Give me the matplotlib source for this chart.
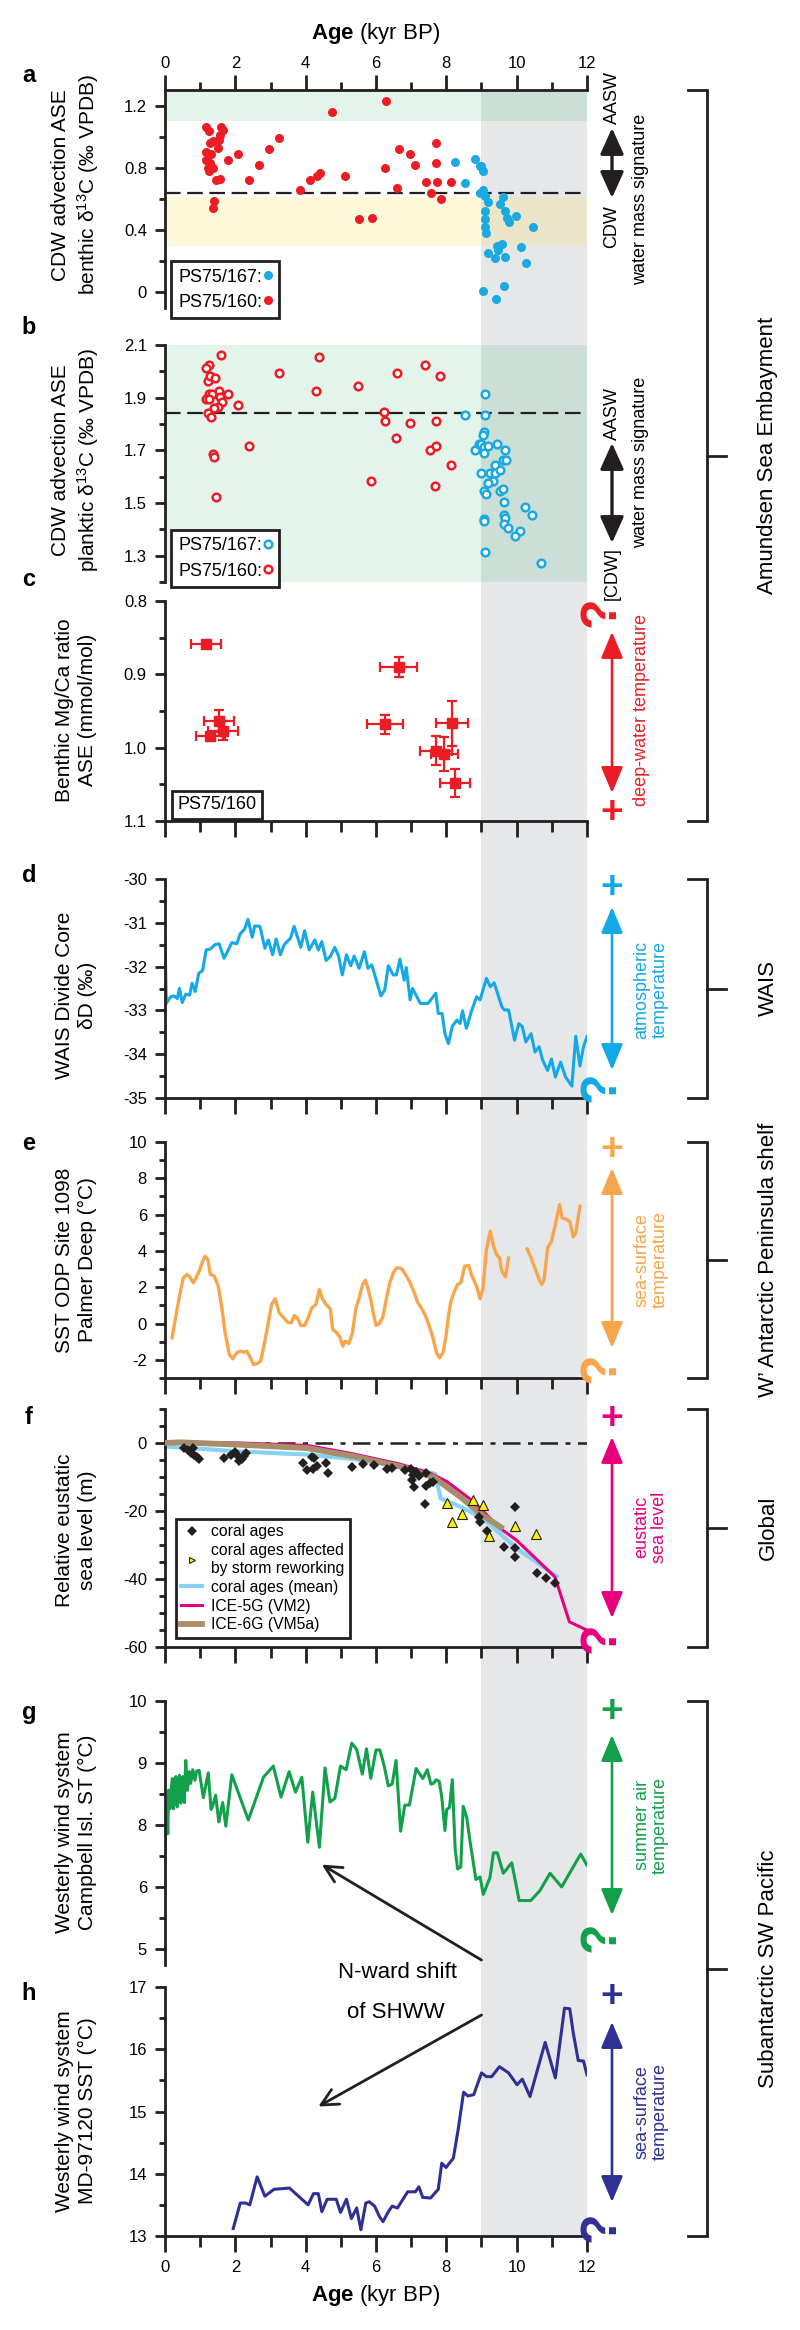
import numpy as np
import matplotlib
matplotlib.use('Agg')
import matplotlib.pyplot as plt
from matplotlib.ticker import MultipleLocator, FixedLocator, FixedFormatter
from matplotlib.lines import Line2D
from matplotlib.patches import Rectangle
from matplotlib.transforms import blended_transform_factory

plt.rcParams['font.family'] = ['Liberation Sans', 'DejaVu Sans']
plt.rcParams['mathtext.fontset'] = 'custom'
plt.rcParams['mathtext.rm'] = 'Liberation Sans'
plt.rcParams['mathtext.bf'] = 'Liberation Sans:bold'
plt.rcParams['mathtext.it'] = 'Liberation Sans:italic'
plt.rcParams['axes.unicode_minus'] = False

# ---- a: benthic d13C ----
ben_age_160 = [1.17, 1.25, 1.58, 1.65, 1.29, 1.36, 1.57, 1.54, 1.17, 1.32, 1.51, 1.17, 1.29, 1.22, 1.36, 1.25,
               1.46, 1.57, 1.80, 2.09, 2.67, 2.38, 2.96, 3.25, 3.83, 4.12, 4.32, 4.41, 4.75, 5.13, 5.51, 5.88,
               6.25, 6.29, 6.64, 6.61, 6.97, 7.12, 7.41, 7.55, 7.74, 7.70, 7.71, 7.84, 8.13, 1.39, 1.36]
ben_d13c_160 = [1.06, 1.035, 1.06, 1.04, 0.96, 0.97, 1.01, 0.98, 0.90, 0.89, 0.93, 0.85, 0.83, 0.80, 0.80, 0.78,
                0.725, 0.73, 0.85, 0.89, 0.82, 0.72, 0.92, 0.99, 0.66, 0.72, 0.75, 0.77, 1.16, 0.75, 0.47, 0.48,
                0.80, 1.23, 0.92, 0.67, 0.89, 0.82, 0.71, 0.64, 0.71, 0.83, 0.96, 0.60, 0.71, 0.59, 0.54]
ben_age_167 = [8.25, 8.54, 8.81, 8.96, 9.04, 9.00, 8.96, 9.04, 9.10, 9.19, 9.62, 9.54, 9.68, 9.72, 9.77, 9.97,
               9.10, 9.10, 9.10, 9.12, 10.46, 9.43, 9.57, 9.48, 9.19, 9.39, 9.68, 10.12, 10.26, 9.03, 9.65, 9.41]
ben_d13c_167 = [0.84, 0.70, 0.86, 0.81, 0.78, 0.81, 0.64, 0.66, 0.62, 0.58, 0.61, 0.57, 0.52, 0.48, 0.45, 0.49,
                0.52, 0.47, 0.42, 0.38, 0.42, 0.30, 0.31, 0.27, 0.25, 0.22, 0.23, 0.29, 0.19, 0.01, 0.04, -0.04]
ben_threshold = 0.64

# ---- b: planktic d13C ----
pla_age_160 = [1.58, 1.25, 1.17, 1.22, 1.29, 1.42, 1.54, 1.25, 1.33, 1.17, 1.26, 1.57, 1.61, 1.80, 1.51, 1.39,
               1.22, 1.32, 2.09, 1.36, 1.39, 2.38, 1.45, 3.25, 4.29, 4.38, 5.49, 5.86, 6.22, 6.25, 6.61, 6.58,
               6.97, 7.39, 7.54, 7.70, 7.70, 7.83, 7.68, 8.12]
pla_d13c_160 = [2.063, 2.025, 2.012, 1.965, 1.983, 1.974, 1.927, 1.914, 1.913, 1.895, 1.895, 1.904, 1.883, 1.914,
                1.866, 1.859, 1.843, 1.825, 1.872, 1.685, 1.675, 1.715, 1.522, 1.993, 1.927, 2.054, 1.945, 1.583,
                1.844, 1.812, 1.993, 1.745, 1.802, 2.024, 1.703, 1.715, 1.812, 1.983, 1.564, 1.644]
pla_age_167 = [9.10, 8.54, 9.10, 9.07, 9.04, 8.81, 8.93, 9.00, 9.07, 9.19, 9.07, 9.43, 9.68, 9.39, 9.62, 9.70,
               9.00, 9.25, 9.39, 9.54, 9.33, 9.19, 9.07, 9.14, 9.54, 9.62, 9.65, 10.23, 10.45, 9.07, 9.07, 9.65,
               9.68, 9.65, 9.74, 10.09, 9.94, 9.10, 10.70]
pla_d13c_167 = [1.914, 1.834, 1.834, 1.770, 1.757, 1.703, 1.723, 1.725, 1.713, 1.715, 1.691, 1.723, 1.703, 1.645,
                1.662, 1.662, 1.613, 1.613, 1.613, 1.624, 1.585, 1.575, 1.545, 1.534, 1.545, 1.553, 1.503, 1.483,
                1.454, 1.441, 1.432, 1.454, 1.443, 1.422, 1.404, 1.394, 1.375, 1.315, 1.273]
pla_threshold = 1.843

# ---- c: benthic Mg/Ca ----
mgca_age = [1.17, 6.64, 1.54, 1.65, 1.29, 6.26, 8.16, 7.71, 7.94, 8.25]
mgca = [0.858, 0.890, 0.963, 0.977, 0.984, 0.968, 0.967, 1.004, 1.009, 1.048]
mgca_age_err = [0.43, 0.53, 0.42, 0.43, 0.41, 0.52, 0.46, 0.45, 0.38, 0.43]
mgca_err = [0.0, 0.013, 0.015, 0.013, 0.0, 0.013, 0.031, 0.020, 0.023, 0.019]

# ---- d: WAIS Divide dD ----
wais_age = [0.0, 0.04, 0.16, 0.26, 0.35, 0.41, 0.49, 0.59, 0.70, 0.77, 0.86, 0.96, 1.07, 1.17, 1.29, 1.42,
            1.54, 1.68, 1.80, 1.90, 2.04, 2.14, 2.26, 2.36, 2.48, 2.55, 2.70, 2.84, 2.94, 3.06, 3.16, 3.28,
            3.39, 3.57, 3.67, 3.86, 3.97, 4.10, 4.26, 4.36, 4.46, 4.58, 4.70, 4.83, 4.94, 5.04, 5.16, 5.28,
            5.38, 5.52, 5.67, 5.77, 5.88, 6.14, 6.25, 6.35, 6.49, 6.58, 6.68, 6.80, 6.86, 6.97, 7.04, 7.26,
            7.48, 7.70, 7.77, 7.88, 7.96, 8.06, 8.17, 8.30, 8.39, 8.46, 8.57, 8.71, 8.86, 8.96, 9.14, 9.25,
            9.36, 9.58, 9.65, 9.77, 9.94, 10.06, 10.16, 10.26, 10.41, 10.52, 10.64, 10.74, 10.88, 10.99,
            11.10, 11.25, 11.39, 11.57, 11.68, 11.80, 11.90, 12.0]
wais_dD = [-31.43, -32.84, -32.69, -32.67, -32.73, -32.50, -32.82, -32.63, -32.65, -32.38, -32.57, -32.15,
           -32.09, -31.62, -31.60, -31.50, -31.48, -31.81, -31.62, -31.45, -31.48, -31.25, -31.15, -30.92,
           -31.33, -31.07, -31.08, -31.58, -31.39, -31.73, -31.37, -31.73, -31.50, -31.35, -31.08, -31.56,
           -31.18, -31.62, -31.39, -31.62, -31.43, -31.86, -31.77, -31.56, -31.77, -32.19, -31.73, -31.98,
           -31.76, -32.04, -31.66, -32.04, -31.96, -32.67, -32.53, -31.98, -32.19, -32.19, -31.83, -32.31,
           -32.02, -32.76, -32.50, -32.84, -32.84, -32.61, -33.07, -33.07, -33.53, -33.76, -33.36, -33.22,
           -33.30, -33.01, -33.41, -33.03, -32.69, -32.76, -32.27, -32.46, -32.37, -32.92, -32.99, -32.99,
           -33.68, -33.30, -33.37, -33.72, -33.53, -33.95, -33.83, -34.14, -34.37, -34.11, -34.52, -34.18,
           -34.52, -34.73, -33.59, -34.27, -33.83, -33.60]

# ---- e: SST ODP Site 1098 (two segments) ----
sst_age_1 = [0.20, 0.30, 0.41, 0.52, 0.62, 0.70, 0.81, 0.88, 0.99, 1.07, 1.14, 1.22, 1.29, 1.39, 1.51, 1.61,
             1.71, 1.83, 1.93, 2.04, 2.14, 2.23, 2.33, 2.43, 2.52, 2.62, 2.72, 2.81, 2.91, 3.03, 3.13, 3.25,
             3.35, 3.49, 3.59, 3.68, 3.78, 3.86, 3.97, 4.07, 4.17, 4.29, 4.39, 4.48, 4.58, 4.70, 4.77, 4.87,
             4.97, 5.06, 5.13, 5.23, 5.33, 5.42, 5.52, 5.62, 5.70, 5.77, 5.86, 5.93, 6.00, 6.10, 6.20, 6.29,
             6.39, 6.49, 6.58, 6.68, 6.75, 6.87, 6.97, 7.09, 7.19, 7.29, 7.41, 7.51, 7.62, 7.72, 7.81, 7.91,
             7.99, 8.06, 8.13, 8.23, 8.32, 8.42, 8.52, 8.64, 8.71, 8.86, 8.96, 9.04, 9.14, 9.25, 9.33, 9.43,
             9.51, 9.58, 9.68, 9.77]
sst_1 = [-0.79, 0.31, 1.50, 2.51, 2.70, 2.57, 2.24, 2.51, 2.97, 3.43, 3.71, 3.52, 2.70, 2.64, 2.09, 0.95,
         -0.51, -1.71, -1.94, -1.61, -1.52, -1.58, -1.52, -1.89, -2.26, -2.20, -2.07, -1.25, -0.24, 1.05,
         1.36, 0.59, 0.37, 0.07, 0.04, 0.44, 0.26, -0.11, -0.11, 0.31, 0.86, 1.05, 1.87, 1.36, 1.05, 0.81,
         -0.33, -0.48, -0.73, -1.25, -0.97, -1.10, -0.51, 0.77, 1.41, 2.15, 2.39, 1.96, 1.23, 0.50, -0.11,
         0.0, 0.40, 1.32, 2.24, 2.79, 3.06, 3.06, 2.97, 2.61, 2.24, 1.69, 1.14, 0.86, 0.40, -0.11, -0.79,
         -1.61, -1.89, -1.58, -0.70, 0.40, 1.23, 1.78, 2.15, 2.28, 3.16, 3.19, 2.70, 2.06, 1.36, 1.91, 4.07,
         5.08, 4.35, 3.80, 3.61, 2.88, 2.57, 3.61]
sst_age_2 = [10.30, 10.41, 10.52, 10.64, 10.71, 10.78, 10.88, 10.99, 11.10, 11.22, 11.29, 11.39, 11.51, 11.61,
             11.68, 11.80]
sst_2 = [4.11, 3.61, 3.06, 2.42, 2.15, 2.42, 4.17, 4.53, 5.45, 6.55, 5.82, 5.76, 5.63, 4.77, 4.99, 6.46]

# ---- f: relative eustatic sea level ----
coral_age = [0.55, 0.66, 0.73, 0.81, 0.82, 0.90, 0.98, 1.68, 1.87, 1.99, 2.06, 2.11, 2.18, 2.25, 2.30, 3.93,
             4.03, 4.17, 4.24, 4.20, 4.33, 4.58, 4.64, 5.31, 5.64, 5.95, 6.30, 6.46, 6.82, 6.99, 7.04, 7.01,
             7.08, 7.13, 7.23, 7.41, 7.42, 7.54, 7.61, 7.39, 8.94, 8.96, 9.17, 9.64, 9.95, 9.95, 9.95, 10.57,
             10.82, 11.09]
coral_sl = [-1.5, -2.0, -3.0, -1.5, -3.4, -4.1, -4.7, -4.4, -3.4, -2.5, -3.4, -5.4, -4.6, -3.7, -3.0, -5.9,
            -7.9, -4.1, -4.4, -7.6, -6.9, -5.9, -8.9, -7.2, -6.2, -6.6, -7.7, -7.4, -7.9, -7.7, -9.4, -10.8,
            -13.0, -8.4, -9.7, -8.9, -12.6, -11.8, -11.6, -17.9, -21.9, -23.2, -25.8, -30.5, -18.9, -30.8,
            -33.5, -38.2, -39.6, -41.2]
storm_age = [8.03, 8.17, 8.44, 8.77, 9.05, 9.22, 9.95, 10.55]
storm_sl = [-17.7, -23.3, -20.9, -16.7, -18.3, -27.4, -24.4, -26.8]
mean_age = [0.0, 2.13, 4.03, 5.36, 6.68, 7.44, 7.68, 7.84, 8.39, 9.05, 10.0, 11.14]
mean_sl = [-1.0, -2.5, -3.4, -4.7, -6.9, -8.4, -9.1, -16.3, -18.7, -22.2, -31.0, -39.2]
ice5g_age = [0.0, 2.13, 4.03, 5.26, 6.68, 7.54, 8.01, 8.77, 9.53, 10.0, 11.09, 11.5, 11.97]
ice5g_sl = [0.3, 0.0, -0.7, -3.0, -6.2, -8.9, -11.3, -17.2, -25.1, -28.6, -39.4, -52.6, -54.9]
ice6g_age = [0.0, 0.43, 2.13, 4.03, 5.36, 6.68, 7.63, 8.39, 8.96, 9.55]
ice6g_sl = [0.0, 0.2, -0.5, -1.5, -3.9, -6.9, -10.0, -15.8, -20.7, -24.8]

# ---- g: Campbell Island summer air temperature (tick positions vs printed labels below) ----
camp_age = [0.0, 0.05, 0.08, 0.10, 0.14, 0.18, 0.21, 0.24, 0.27, 0.31, 0.35, 0.41, 0.45, 0.50, 0.55, 0.59,
            0.64, 0.69, 0.73, 0.79, 0.85, 0.90, 0.97, 1.09, 1.23, 1.31, 1.37, 1.44, 1.53, 1.64, 1.73, 1.90,
            2.37, 2.80, 3.08, 3.30, 3.53, 3.71, 3.89, 4.06, 4.20, 4.39, 4.55, 4.69, 4.83, 4.99, 5.15, 5.31,
            5.45, 5.61, 5.73, 5.85, 6.00, 6.11, 6.23, 6.35, 6.46, 6.57, 6.70, 6.82, 6.95, 7.14, 7.33, 7.46,
            7.56, 7.63, 7.71, 7.80, 7.87, 7.96, 8.01, 8.09, 8.17, 8.25, 8.32, 8.41, 8.48, 8.58, 8.67, 8.84,
            8.96, 9.05, 9.24, 9.34, 9.45, 9.62, 9.86, 10.07, 10.40, 10.66, 10.95, 11.28, 11.82, 12.0]
camp_st = [7.59, 8.29, 7.86, 8.56, 8.26, 8.59, 8.75, 8.26, 8.35, 8.78, 8.29, 8.80, 8.35, 8.78, 8.36, 9.04,
           8.56, 8.86, 8.67, 8.89, 8.72, 8.87, 8.88, 8.44, 8.84, 8.25, 8.33, 8.48, 8.05, 8.36, 7.98, 8.81,
           8.08, 8.77, 8.95, 8.45, 8.86, 8.53, 8.77, 7.72, 8.53, 7.64, 8.92, 8.37, 8.43, 8.95, 8.89, 9.32,
           9.22, 8.82, 9.23, 8.75, 9.21, 9.21, 8.96, 8.63, 8.66, 9.04, 7.90, 8.32, 8.32, 8.91, 8.75, 8.89,
           8.66, 8.67, 8.73, 8.70, 8.45, 7.91, 8.25, 8.28, 8.73, 7.62, 7.29, 7.32, 8.30, 8.12, 7.75, 7.12,
           7.16, 6.88, 7.15, 7.55, 7.55, 7.22, 7.39, 6.78, 6.78, 6.94, 7.22, 7.00, 7.53, 7.35]
camp_tick_pos = [6, 7, 8, 9, 10]
camp_tick_lab = ['5', '6', '8', '9', '10']

# ---- h: MD97-2120 SST ----
md_age = [1.94, 2.14, 2.29, 2.41, 2.62, 2.84, 3.10, 3.54, 4.07, 4.22, 4.36, 4.46, 4.61, 4.87, 4.99, 5.16,
          5.30, 5.45, 5.57, 5.71, 5.81, 5.96, 6.10, 6.20, 6.35, 6.46, 6.61, 6.90, 7.12, 7.22, 7.33, 7.55,
          7.77, 7.87, 7.99, 8.20, 8.35, 8.49, 8.61, 8.78, 9.00, 9.14, 9.29, 9.51, 9.77, 10.01, 10.16, 10.38,
          10.59, 10.81, 11.10, 11.36, 11.51, 11.61, 11.75, 11.90, 12.0]
md_sst = [13.12, 13.53, 13.53, 13.50, 13.95, 13.64, 13.75, 13.77, 13.50, 13.68, 13.68, 13.39, 13.59, 13.59,
          13.38, 13.59, 13.28, 13.45, 13.10, 13.53, 13.55, 13.48, 13.31, 13.23, 13.39, 13.48, 13.45, 13.71,
          13.71, 13.79, 13.62, 13.61, 13.75, 14.17, 14.10, 14.25, 14.76, 15.31, 15.25, 15.27, 15.62, 15.56,
          15.56, 15.72, 15.62, 15.43, 15.52, 15.24, 15.67, 16.11, 15.54, 16.66, 16.65, 16.26, 15.82, 15.81,
          15.59]

band_start, band_end = 9, 12

# colours
K = '#231F20'
RED = '#EC1C24'
BLUE = '#1AA9E1'
CYAN = '#13A9E6'
ORANGE = '#F8A54B'
MAGENTA = '#E6007E'
GREEN = '#12A04A'
NAVY = '#2E3192'
GREY = '#E6E7E8'

W, H = 800, 2330
L, R = 165, 587
fig = plt.figure(figsize=(8, 23.3), dpi=100)


def panel(top, bot, bottom_axis=True):
    ax = fig.add_axes([L / W, 1 - bot / H, (R - L) / W, (bot - top) / H])
    ax.set_facecolor('none')
    ax.set_xlim(0, 12)
    ax.spines['right'].set_visible(False)
    ax.spines['top'].set_visible(False)
    for s in ['left', 'bottom', 'top']:
        ax.spines[s].set_linewidth(2)
        ax.spines[s].set_color(K)
    ax.xaxis.set_major_locator(MultipleLocator(2))
    ax.xaxis.set_minor_locator(MultipleLocator(1))
    ax.tick_params(axis='y', which='major', direction='out', length=7, width=2, labelsize=12, pad=6, color=K)
    ax.tick_params(axis='y', which='minor', direction='out', length=4.5, width=2, color=K)
    ax.tick_params(axis='x', which='major', direction='out', length=11.5, width=2, labelsize=12, pad=6, color=K)
    ax.tick_params(axis='x', which='minor', direction='out', length=8, width=2, color=K)
    if bottom_axis:
        ax.tick_params(axis='x', which='both', labelbottom=False)
    else:
        ax.spines['bottom'].set_visible(False)
        ax.tick_params(axis='x', which='both', bottom=False, labelbottom=False)
    return ax


# ---------- panel a ----------
ax_a = panel(90, 308, bottom_axis=False)
ax_a.spines['top'].set_visible(True)
ax_a.tick_params(axis='x', which='both', top=True, labeltop=True)
ax_a.tick_params(axis='x', which='major', length=11, pad=3)
ax_a.tick_params(axis='x', which='minor', length=6)
ax_a.set_ylim(-0.1, 1.3)
ax_a.yaxis.set_major_locator(FixedLocator([0, 0.4, 0.8, 1.2]))
ax_a.yaxis.set_major_formatter(FixedFormatter(['0', '0.4', '0.8', '1.2']))
ax_a.yaxis.set_minor_locator(MultipleLocator(0.2))
ax_a.axhspan(1.1, 1.3, color='#00A651', alpha=0.11, lw=0, zorder=0)
ax_a.axhspan(0.3, 0.61, color='#FFE45C', alpha=0.22, lw=0, zorder=0)
ax_a.axhline(ben_threshold, color=K, lw=1.6, ls=(0, (7, 3)), zorder=1)
pa167, = ax_a.plot(ben_age_167, ben_d13c_167, 'o', color=BLUE, ms=6.5, mew=0, zorder=3)
pa160, = ax_a.plot(ben_age_160, ben_d13c_160, 'o', color=RED, ms=6.5, mew=0, zorder=3)
leg = ax_a.legend([pa167, pa160], ['PS75/167:', 'PS75/160:'], markerfirst=False, loc='lower left',
                  bbox_to_anchor=(0.014, -0.046), borderaxespad=0, fancybox=False, edgecolor=K,
                  fontsize=13, handlelength=0.5, handletextpad=0.05, labelspacing=0.45, borderpad=0.4,
                  framealpha=1)
leg.get_frame().set_linewidth(2)

# ---------- panel b ----------
ax_b = panel(345, 582, bottom_axis=False)
ax_b.set_ylim(1.2, 2.1)
ax_b.yaxis.set_major_locator(FixedLocator([1.3, 1.5, 1.7, 1.9, 2.1]))
ax_b.yaxis.set_major_formatter(FixedFormatter(['1.3', '1.5', '1.7', '1.9', '2.1']))
ax_b.yaxis.set_minor_locator(MultipleLocator(0.1))
ax_b.axhspan(1.2, 2.1, color='#00A651', alpha=0.11, lw=0, zorder=0)
ax_b.axhline(pla_threshold, color=K, lw=1.6, ls=(0, (7, 3)), zorder=1)
pb167, = ax_b.plot(pla_age_167, pla_d13c_167, 'o', mfc='white', mec=BLUE, ms=5.5, mew=1.8, zorder=3)
pb160, = ax_b.plot(pla_age_160, pla_d13c_160, 'o', mfc='white', mec=RED, ms=5.5, mew=1.8, zorder=3)
leg = ax_b.legend([pb167, pb160], ['PS75/167:', 'PS75/160:'], markerfirst=False, loc='lower left',
                  bbox_to_anchor=(0.014, -0.02), borderaxespad=0, fancybox=False, edgecolor=K,
                  fontsize=13, handlelength=0.5, handletextpad=0.05, labelspacing=0.45, borderpad=0.4,
                  framealpha=1)
leg.get_frame().set_linewidth(2)

# ---------- panel c ----------
ax_c = panel(601, 821)
ax_c.set_ylim(1.1, 0.8)
ax_c.yaxis.set_major_locator(FixedLocator([0.8, 0.9, 1.0, 1.1]))
ax_c.yaxis.set_major_formatter(FixedFormatter(['0.8', '0.9', '1.0', '1.1']))
ax_c.yaxis.set_minor_locator(MultipleLocator(0.05))
ax_c.errorbar(mgca_age, mgca, xerr=mgca_age_err, yerr=mgca_err, fmt='s', color=RED, ms=7.5,
              elinewidth=1.6, capsize=3.5, capthick=1.6, zorder=3)
ax_c.text(0.03, 0.035, 'PS75/160', transform=ax_c.transAxes, fontsize=13, ha='left', va='bottom',
          bbox=dict(boxstyle='square,pad=0.3', fc='white', ec=K, lw=2))

# ---------- panel d ----------
ax_d = panel(879, 1098)
ax_d.set_ylim(-35, -30)
ax_d.yaxis.set_major_locator(MultipleLocator(1))
ax_d.yaxis.set_minor_locator(MultipleLocator(0.5))
ax_d.plot(wais_age, wais_dD, color=CYAN, lw=2.2)

# ---------- panel e ----------
ax_e = panel(1142, 1378)
ax_e.set_ylim(-3, 10)
ax_e.yaxis.set_major_locator(MultipleLocator(2))
ax_e.yaxis.set_minor_locator(MultipleLocator(1))
ax_e.plot(sst_age_1, sst_1, color=ORANGE, lw=2.4)
ax_e.plot(sst_age_2, sst_2, color=ORANGE, lw=2.4)

# ---------- panel f ----------
ax_f = panel(1409, 1647)
ax_f.set_ylim(-60, 10)
ax_f.yaxis.set_major_locator(MultipleLocator(20))
ax_f.yaxis.set_minor_locator(MultipleLocator(5))
ax_f.plot([0, 12], [0, 0], color=K, lw=1.8, ls=(0, (7, 3, 2, 3)), zorder=1)
l_mean, = ax_f.plot(mean_age, mean_sl, color='#86D3F3', lw=3, zorder=2)
l_5g, = ax_f.plot(ice5g_age, ice5g_sl, color=MAGENTA, lw=2.2, zorder=3)
l_6g, = ax_f.plot(ice6g_age, ice6g_sl, color='#A88D6B', lw=4.2, zorder=4)
ax_f.plot(coral_age, coral_sl, 'D', color=K, ms=5, mew=0, zorder=5)
ax_f.plot(storm_age, storm_sl, '^', mfc='#FFF200', mec=K, ms=7, mew=0.8, zorder=5)
h_coral = Line2D([], [], ls='none', marker='D', color=K, ms=5, mew=0)
h_storm = Line2D([], [], ls='none', marker='>', mfc='#FFF200', mec=K, ms=5, mew=0.8)
leg = ax_f.legend([h_coral, h_storm, l_mean, l_5g, l_6g],
                  ['coral ages', 'coral ages affected\nby storm reworking', 'coral ages (mean)',
                   'ICE-5G (VM2)', 'ICE-6G (VM5a)'],
                  loc='lower left', bbox_to_anchor=(0.026, 0.038), borderaxespad=0, fancybox=False,
                  edgecolor=K, fontsize=11.3, handlelength=1.3, handletextpad=0.6, labelspacing=0.25,
                  borderpad=0.35, framealpha=1)
leg.get_frame().set_linewidth(2)

# ---------- panel g ----------
ax_g = panel(1701, 1965, bottom_axis=False)
ax_g.set_ylim(5.74, 10)
ax_g.yaxis.set_major_locator(FixedLocator(camp_tick_pos))
ax_g.yaxis.set_major_formatter(FixedFormatter(camp_tick_lab))
ax_g.yaxis.set_minor_locator(MultipleLocator(0.5))
ax_g.plot(camp_age, camp_st, color=GREEN, lw=2.2)
ax_g.annotate('', xy=(4.46, 7.36), xytext=(9.0, 5.82), xycoords='data',
              arrowprops=dict(arrowstyle='->,head_length=0.6,head_width=0.3', color=K, lw=2,
                              shrinkA=0, shrinkB=0, mutation_scale=20))

# ---------- panel h ----------
ax_h = panel(1987, 2236)
ax_h.set_ylim(13, 17)
ax_h.yaxis.set_major_locator(MultipleLocator(1))
ax_h.yaxis.set_minor_locator(MultipleLocator(0.5))
ax_h.tick_params(axis='x', which='both', labelbottom=True)
ax_h.plot(md_age, md_sst, color=NAVY, lw=2.2)
ax_h.annotate('', xy=(4.36, 15.08), xytext=(9.0, 16.55), xycoords='data',
              arrowprops=dict(arrowstyle='->,head_length=0.6,head_width=0.3', color=K, lw=2,
                              shrinkA=0, shrinkB=0, mutation_scale=20))

# ---------- grey band behind all panels ----------
under = fig.add_axes([0, 0, 1, 1], zorder=-5)
under.set_xlim(0, W)
under.set_ylim(H, 0)
under.axis('off')
band_tr = blended_transform_factory(ax_h.transData, under.transData)
under.add_patch(Rectangle((band_start, 90), band_end - band_start, 2236 - 90, transform=band_tr,
                          color=GREY, lw=0))

# ---------- overlay for labels, brackets, arrows ----------
over = fig.add_axes([0, 0, 1, 1], zorder=10)
over.set_xlim(0, W)
over.set_ylim(H, 0)
over.axis('off')

xmid = (L + R) / 2
over.text(xmid, 33, r'$\bf{Age}$ (kyr BP)', fontsize=16, ha='center', va='center')
over.text(xmid, 2295, r'$\bf{Age}$ (kyr BP)', fontsize=16, ha='center', va='center')

letters = [('a', 75), ('b', 328), ('c', 580), ('d', 875), ('e', 1143), ('f', 1418), ('g', 1713), ('h', 1993)]
for s, y in letters:
    over.text(29, y, s, fontsize=17, fontweight='bold', ha='center', va='center')

ylabels = [('CDW advection ASE\nbenthic δ$^{13}$C (‰ VPDB)', 185),
           ('CDW advection ASE\nplanktic δ$^{13}$C (‰ VPDB)', 460),
           ('Benthic Mg/Ca ratio\nASE (mmol/mol)', 710),
           ('WAIS Divide Core\nδD (‰)', 995),
           ('SST ODP Site 1098\nPalmer Deep (°C)', 1260),
           ('Relative eustatic\nsea level (m)', 1530),
           ('Westerly wind system\nCampbell Isl. ST (°C)', 1832),
           ('Westerly wind system\nMD-97120 SST (°C)', 2111)]
for s, y in ylabels:
    over.text(76, y, s, fontsize=15, rotation=90, ha='center', va='center', multialignment='center',
              linespacing=1.3)


def updown(y0, y1, color, lw=1.9, hl=1.0, hw=0.42, ms=16):
    over.annotate('', xy=(612, y0), xytext=(612, y1),
                  arrowprops=dict(arrowstyle='<|-|>,head_length=%g,head_width=%g' % (hl, hw),
                                  color=color, lw=lw, shrinkA=0, shrinkB=0, mutation_scale=ms))


# a / b: water mass signature
updown(128, 198, K, lw=2.4, hl=1.0, hw=0.45)
over.text(612, 98, 'AASW', fontsize=13, rotation=90, ha='center', va='center')
over.text(612, 227, 'CDW', fontsize=13, rotation=90, ha='center', va='center')
over.text(641, 199, 'water mass signature', fontsize=13, rotation=90, ha='center', va='center')
updown(443, 543, K, lw=2.4, hl=1.0, hw=0.45)
over.text(612, 413, 'AASW', fontsize=13, rotation=90, ha='center', va='center')
over.text(612, 574, '[CDW]', fontsize=13, rotation=90, ha='center', va='center')
over.text(641, 462, 'water mass signature', fontsize=13, rotation=90, ha='center', va='center')

# c - h: proxy direction arrows
proxy = [(RED, 632, 793, 612, 813, 'deep-water temperature', 710),
         (CYAN, 907, 1070, 1087, 888, 'atmospheric\ntemperature', 990),
         (ORANGE, 1168, 1348, 1368, 1150, 'sea-surface\ntemperature', 1260),
         (MAGENTA, 1437, 1618, 1638, 1419, 'eustatic\nsea level', 1527),
         (GREEN, 1735, 1915, 1937, 1712, 'summer air\ntemperature', 1825),
         (NAVY, 2022, 2202, 2227, 1997, 'sea-surface\ntemperature', 2112)]
for col, y0, y1, yq, yp, lab, ylab in proxy:
    updown(y0, y1, col)
    over.text(602, yq, '?', fontsize=36, fontweight='bold', rotation=90, color=col, ha='center', va='center')
    over.text(612, yp, '+', fontsize=28, fontweight='bold', color=col, ha='center', va='center')
    xl = 641 if '\n' not in lab else 651
    over.text(xl, ylab, lab, fontsize=13, rotation=90, color=col, ha='center', va='center',
              multialignment='center', linespacing=1.05)

# N-ward shift text
over.text(397, 1973, 'N-ward shift', fontsize=16, ha='center', va='center')
over.text(396, 2012, 'of SHWW', fontsize=16, ha='center', va='center')

# region brackets
brackets = [(90, 821, 'Amundsen Sea Embayment'),
            (879, 1098, 'WAIS'),
            (1142, 1378, 'W’ Antarctic Peninsula shelf'),
            (1409, 1647, 'Global'),
            (1701, 2236, 'Subantarctic SW Pacific')]
for top, bot, lab in brackets:
    mid = (top + bot) / 2
    over.plot([688, 707, 707, 688], [top, top, bot, bot], color=K, lw=2, solid_joinstyle='miter')
    over.plot([707, 726], [mid, mid], color=K, lw=2)
    over.text(768, mid, lab, fontsize=16, rotation=90, ha='center', va='center')

fig.savefig('out.png', dpi=100)
